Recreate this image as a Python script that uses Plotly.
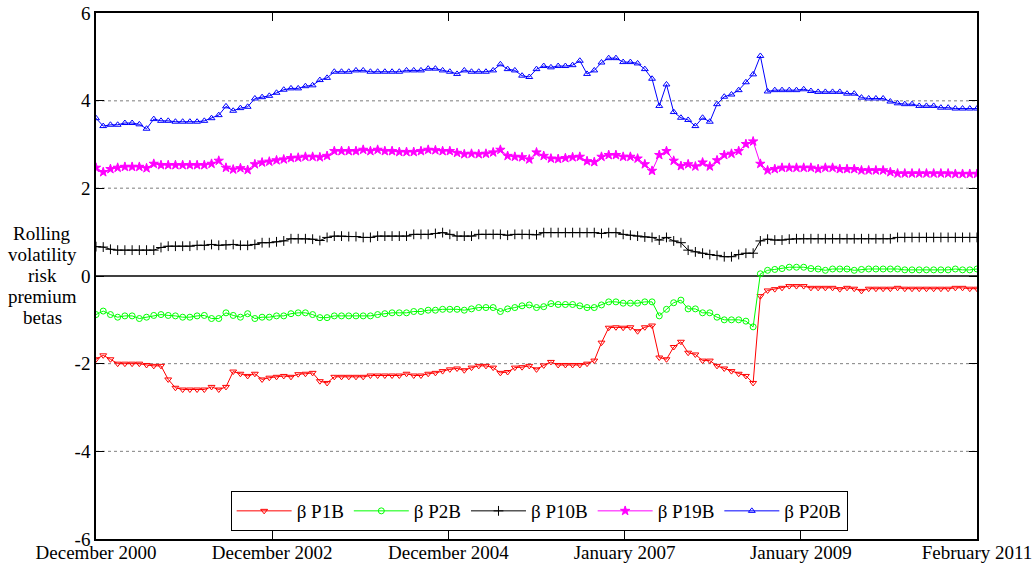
import numpy as np
import plotly.graph_objects as go

tick_labels = ["December 2000", "December 2002", "December 2004",
               "January 2007", "January 2009", "February 2011"]

p1b = [-1.90, -1.81, -1.90, -2.00, -2.00, -2.00, -2.00, -2.03, -2.05, -2.05,
       -2.36, -2.55, -2.59, -2.59, -2.59, -2.59, -2.53, -2.59, -2.53, -2.18,
       -2.23, -2.28, -2.23, -2.36, -2.32, -2.30, -2.28, -2.30, -2.24, -2.23,
       -2.21, -2.40, -2.44, -2.30, -2.30, -2.30, -2.30, -2.30, -2.27, -2.27,
       -2.27, -2.27, -2.27, -2.23, -2.27, -2.27, -2.23, -2.21, -2.17, -2.13,
       -2.11, -2.15, -2.09, -2.05, -2.05, -2.09, -2.21, -2.19, -2.09, -2.08,
       -2.05, -2.13, -2.04, -1.96, -2.03, -2.03, -2.03, -2.03, -2.00, -1.93,
       -1.52, -1.18, -1.17, -1.18, -1.17, -1.26, -1.17, -1.13, -1.86, -1.90,
       -1.62, -1.50, -1.75, -1.79, -1.93, -1.93, -2.05, -2.11, -2.17, -2.23,
       -2.28, -2.44, -0.46, -0.33, -0.30, -0.27, -0.23, -0.23, -0.23, -0.27,
       -0.27, -0.27, -0.27, -0.30, -0.27, -0.29, -0.34, -0.29, -0.29, -0.29,
       -0.29, -0.27, -0.29, -0.29, -0.29, -0.29, -0.29, -0.29, -0.29, -0.27,
       -0.27, -0.29, -0.29]

p2b = [-0.88, -0.80, -0.88, -0.94, -0.91, -0.91, -0.97, -0.94, -0.90, -0.88,
       -0.90, -0.91, -0.94, -0.94, -0.91, -0.90, -0.97, -0.97, -0.84, -0.90,
       -0.94, -0.86, -0.97, -0.94, -0.94, -0.91, -0.91, -0.86, -0.84, -0.84,
       -0.88, -0.95, -0.95, -0.91, -0.91, -0.91, -0.91, -0.91, -0.91, -0.88,
       -0.86, -0.84, -0.84, -0.84, -0.81, -0.81, -0.78, -0.78, -0.76, -0.76,
       -0.76, -0.78, -0.75, -0.72, -0.72, -0.72, -0.81, -0.75, -0.72, -0.68,
       -0.66, -0.72, -0.70, -0.63, -0.65, -0.65, -0.65, -0.68, -0.72, -0.72,
       -0.66, -0.59, -0.59, -0.62, -0.62, -0.62, -0.59, -0.59, -0.91, -0.76,
       -0.61, -0.55, -0.75, -0.75, -0.84, -0.84, -0.94, -1.00, -1.00, -1.00,
       -1.03, -1.16, 0.05, 0.13, 0.15, 0.17, 0.20, 0.20, 0.20, 0.17,
       0.16, 0.13, 0.16, 0.16, 0.16, 0.13, 0.15, 0.16, 0.16, 0.16,
       0.16, 0.16, 0.14, 0.14, 0.14, 0.14, 0.14, 0.14, 0.14, 0.16,
       0.14, 0.14, 0.16]

p10b = [0.67, 0.66, 0.61, 0.59, 0.59, 0.59, 0.59, 0.59, 0.59, 0.65,
        0.68, 0.68, 0.68, 0.68, 0.70, 0.70, 0.72, 0.70, 0.71, 0.72,
        0.70, 0.70, 0.72, 0.76, 0.76, 0.78, 0.80, 0.85, 0.85, 0.85,
        0.84, 0.81, 0.88, 0.91, 0.91, 0.90, 0.90, 0.88, 0.88, 0.91,
        0.91, 0.91, 0.91, 0.91, 0.95, 0.95, 0.95, 0.97, 0.99, 0.95,
        0.91, 0.91, 0.91, 0.95, 0.95, 0.95, 0.95, 0.93, 0.95, 0.95,
        0.95, 0.94, 0.99, 0.99, 0.99, 0.99, 0.99, 0.99, 0.99, 0.99,
        0.97, 0.99, 0.99, 0.95, 0.93, 0.91, 0.89, 0.88, 0.82, 0.88,
        0.80, 0.76, 0.59, 0.55, 0.52, 0.49, 0.47, 0.44, 0.44, 0.49,
        0.52, 0.52, 0.80, 0.84, 0.82, 0.82, 0.84, 0.85, 0.85, 0.85,
        0.85, 0.85, 0.85, 0.85, 0.85, 0.85, 0.85, 0.85, 0.85, 0.85,
        0.85, 0.88, 0.88, 0.88, 0.88, 0.88, 0.88, 0.88, 0.88, 0.88,
        0.88, 0.88, 0.88]

p19b = [2.47, 2.37, 2.44, 2.47, 2.49, 2.49, 2.49, 2.46, 2.56, 2.53,
        2.53, 2.53, 2.53, 2.53, 2.53, 2.53, 2.56, 2.63, 2.47, 2.43,
        2.46, 2.42, 2.55, 2.59, 2.61, 2.64, 2.66, 2.69, 2.70, 2.72,
        2.72, 2.71, 2.74, 2.85, 2.85, 2.85, 2.85, 2.88, 2.85, 2.88,
        2.85, 2.85, 2.83, 2.83, 2.83, 2.85, 2.88, 2.87, 2.85, 2.85,
        2.81, 2.78, 2.79, 2.78, 2.79, 2.82, 2.88, 2.74, 2.72, 2.71,
        2.66, 2.82, 2.74, 2.68, 2.67, 2.69, 2.71, 2.72, 2.62, 2.60,
        2.72, 2.76, 2.76, 2.72, 2.72, 2.68, 2.55, 2.40, 2.76, 2.85,
        2.63, 2.51, 2.55, 2.50, 2.59, 2.50, 2.64, 2.76, 2.79, 2.85,
        3.01, 3.07, 2.56, 2.41, 2.44, 2.47, 2.47, 2.47, 2.47, 2.47,
        2.44, 2.47, 2.47, 2.44, 2.44, 2.44, 2.41, 2.41, 2.41, 2.41,
        2.37, 2.34, 2.34, 2.34, 2.34, 2.34, 2.34, 2.34, 2.34, 2.33,
        2.33, 2.33, 2.33]

p20b = [3.60, 3.42, 3.45, 3.45, 3.49, 3.49, 3.46, 3.36, 3.58, 3.54,
        3.54, 3.52, 3.52, 3.52, 3.52, 3.54, 3.60, 3.67, 3.87, 3.77,
        3.83, 3.86, 4.05, 4.08, 4.11, 4.18, 4.25, 4.28, 4.28, 4.33,
        4.35, 4.47, 4.52, 4.66, 4.66, 4.66, 4.69, 4.69, 4.66, 4.66,
        4.66, 4.66, 4.66, 4.69, 4.69, 4.69, 4.73, 4.73, 4.69, 4.66,
        4.61, 4.69, 4.66, 4.66, 4.66, 4.69, 4.83, 4.72, 4.69, 4.57,
        4.54, 4.72, 4.79, 4.76, 4.79, 4.79, 4.81, 4.91, 4.61, 4.69,
        4.87, 4.97, 4.97, 4.88, 4.88, 4.85, 4.72, 4.50, 3.88, 4.37,
        3.74, 3.61, 3.56, 3.42, 3.61, 3.52, 3.92, 4.09, 4.14, 4.24,
        4.42, 4.60, 5.02, 4.21, 4.24, 4.24, 4.24, 4.24, 4.26, 4.22,
        4.20, 4.20, 4.20, 4.20, 4.16, 4.16, 4.07, 4.05, 4.05, 4.05,
        3.98, 3.94, 3.92, 3.92, 3.88, 3.88, 3.88, 3.84, 3.84, 3.82,
        3.82, 3.82, 3.82]

series = [
    ("β P1B", p1b, "#ff0000", "triangle-down-open", 6),
    ("β P2B", p2b, "#00ff00", "circle-open", 6),
    ("β P10B", p10b, "#000000", "cross-thin-open", 7),
    ("β P19B", p19b, "#ff00ff", "star", 7),
    ("β P20B", p20b, "#0000ff", "triangle-up-open", 6),
]

n = len(p1b)
x = list(range(n))
tickvals = list(np.linspace(0, n - 1, len(tick_labels)))

FONT = "'Liberation Serif', 'DejaVu Serif', 'Times New Roman', serif"
FS = 19
fig = go.Figure()

for name, vals, col, sym, sz in series:
    fig.add_trace(go.Scatter(
        x=x, y=vals, name=name, mode="lines+markers",
        line=dict(color=col, width=1),
        marker=dict(symbol=sym, size=sz, color=col, line=dict(color=col, width=1)),
    ))

shapes = []
for yv, c, w in [(4, "#a8a8a8", 1.5), (2, "#a8a8a8", 1.5), (-2, "#808080", 1), (-4, "#808080", 1)]:
    shapes.append(dict(type="line", xref="x", yref="y", x0=0, x1=n - 1, y0=yv, y1=yv,
                       line=dict(color=c, width=w, dash="dot"), layer="below"))
shapes.append(dict(type="line", xref="x", yref="y", x0=0, x1=n - 1, y0=0, y1=0,
                   line=dict(color="black", width=1.5), layer="below"))

FIG_W, FIG_H = 1033, 565
L, T, W, H = 96, 13, 881, 526          # plot area in page pixels

annotations = []
label_lines = ["Rolling", "volatility", "risk", "premium", "betas"]
for k, txt in enumerate(label_lines):
    ypix = 233 + 21 * k
    annotations.append(dict(text=txt, xref="paper", yref="paper",
                            x=(42 - L) / W, y=(T + H - ypix) / H,
                            xanchor="center", yanchor="middle", showarrow=False,
                            font=dict(family=FONT, size=FS, color="black")))

fig.update_layout(
    width=FIG_W, height=FIG_H, autosize=False,
    margin=dict(l=L, r=FIG_W - L - W, t=T, b=FIG_H - T - H, pad=0, autoexpand=False),
    paper_bgcolor="white", plot_bgcolor="white",
    font=dict(family=FONT, size=FS, color="black"),
    shapes=shapes, annotations=annotations,
    legend=dict(orientation="h", x=0.503, xanchor="center", y=8 / H, yanchor="bottom",
                bgcolor="white", bordercolor="black", borderwidth=1,
                font=dict(family=FONT, size=FS, color="black"), itemwidth=55),
    xaxis=dict(range=[0, n - 1], tickvals=tickvals, ticktext=tick_labels,
               ticks="inside", ticklen=8, tickcolor="black", showline=True,
               linecolor="black", linewidth=1.5, mirror="ticks", showgrid=False,
               zeroline=False, ticklabelstandoff=-5, automargin=False,
               ticklabeloverflow="allow",
               tickfont=dict(family=FONT, size=FS, color="black")),
    yaxis=dict(range=[-6, 6], tickvals=[-6, -4, -2, 0, 2, 4, 6],
               ticktext=["-6", "-4", "-2", "0", "2", "4", "6"],
               ticks="inside", ticklen=8, tickcolor="black", showline=True,
               linecolor="black", linewidth=1.5, mirror="ticks", showgrid=False,
               zeroline=False, automargin=False, ticklabeloverflow="allow",
               tickfont=dict(family=FONT, size=FS, color="black")),
)

fig.write_html("out.html", config={"displayModeBar": False},
               post_script="document.body.style.margin='0px';")
